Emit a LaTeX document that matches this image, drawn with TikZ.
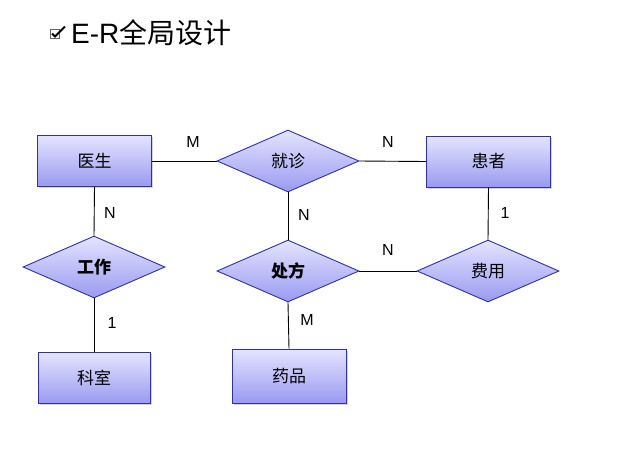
\documentclass[tikz,border=0pt]{standalone}
\usepackage{fontspec}
\setmainfont{Liberation Sans}
\newfontfamily\cjk{Noto Sans CJK SC}
\usetikzlibrary{shapes.geometric,shadows}
\definecolor{erborder}{HTML}{3030A8}
\definecolor{ertop}{HTML}{E4E4FF}
\definecolor{erbot}{HTML}{9A9AF0}
\tikzset{
  entity/.style={draw=erborder, line width=1pt, top color=ertop, bottom color=erbot,
    minimum width=114pt, minimum height=51pt, inner sep=0pt,
    font=\fontsize{17}{17}\selectfont\cjk,
    drop shadow={shadow xshift=1.5pt, shadow yshift=-1.5pt, opacity=0.35}},
  relation/.style={diamond, draw=erborder, line width=0.9pt, top color=ertop, bottom color=erbot,
    minimum width=142pt, minimum height=62pt, inner sep=0pt, aspect=2.3,
    font=\fontsize{17}{17}\selectfont\cjk},
  card/.style={font=\fontsize{16}{16}\selectfont, inner sep=0pt},
  link/.style={line width=0.9pt, black}
}
\begin{document}
\begin{tikzpicture}[x=1pt,y=-1pt]
\useasboundingbox (0,0) rectangle (642,456);
% title
\node[draw=gray!80!black, line width=1pt, minimum size=9pt, inner sep=0pt, fill=white] (chk) at (55,33.5) {};
\draw[line width=2pt, black, line join=miter] ([xshift=-3pt,yshift=0pt]chk.center) -- ([xshift=0pt,yshift=-3pt]chk.center) -- ([xshift=10pt,yshift=7pt]chk.center);
\node[anchor=west, inner sep=0pt, font=\fontsize{28}{28}\selectfont] (title) at (71,33) {E-R{\cjk 全局设计}};
% entities and relations
\node[entity] (doc) at (94.5,161) {医生};
\node[entity, minimum width=124pt] (pat) at (488.5,161.5) {患者};
\node[entity, minimum width=112pt] (dept) at (94,378) {科室};
\node[entity, minimum width=114pt, minimum height=54pt] (drug) at (289,376) {药品};
\node[relation] (visit) at (288,161) {就诊};
\node[relation] (work) at (94,267) {\bfseries 工作};
\node[relation] (presc) at (288,271) {\bfseries 处方};
\node[relation] (fee) at (488,271) {费用};
% connectors
\draw[link] (doc.east) -- (visit.west);
\draw[link] (visit.east) -- (pat.west);
\draw[link] (doc.south) -- (work.north);
\draw[link] (work.south) -- (dept.north);
\draw[link] (visit.south) -- (presc.north);
\draw[link] (presc.south) -- (drug.north);
\draw[link] (presc.east) -- (fee.west);
\draw[link] (pat.south) -- (fee.north);
% cardinalities
\node[card] (c1) at (193,142) {M};
\node[card] (c2) at (388,142) {N};
\node[card] (c3) at (110,213) {N};
\node[card] (c4) at (304,215) {N};
\node[card] (c5) at (505,213) {1};
\node[card] (c6) at (388,250) {N};
\node[card] (c7) at (112,323) {1};
\node[card] (c8) at (307,320) {M};
\end{tikzpicture}
\end{document}
